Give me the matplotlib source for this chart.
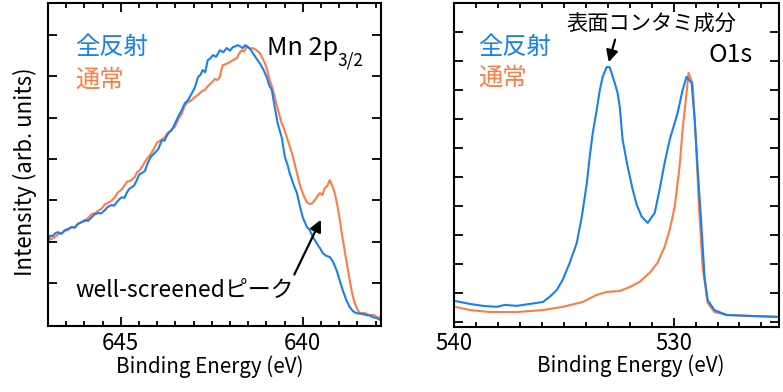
import numpy as np
import matplotlib
matplotlib.use("Agg")
import matplotlib.pyplot as plt
from matplotlib.ticker import MultipleLocator

plt.rcParams['font.family'] = ['Noto Sans CJK JP', 'DejaVu Sans']

# ---------------- data: Mn 2p3/2 (left) ----------------
mn_total_x = [647.00, 646.94, 646.87, 646.80, 646.73, 646.63, 646.54, 646.45, 646.35, 646.26,
              646.18, 646.08, 645.99, 645.90, 645.80, 645.72, 645.63, 645.54, 645.44, 645.35,
              645.25, 645.18, 645.11, 645.04, 644.97, 644.90, 644.84, 644.77, 644.70, 644.63,
              644.56, 644.49, 644.42, 644.34, 644.26, 644.17, 644.07, 643.97, 643.87, 643.80,
              643.74, 643.67, 643.60, 643.52, 643.43, 643.33, 643.24, 643.15, 643.05, 642.97,
              642.88, 642.81, 642.75, 642.68, 642.61, 642.54, 642.47, 642.38, 642.28, 642.18,
              642.09, 642.00, 641.92, 641.85, 641.79, 641.72, 641.65, 641.58, 641.51, 641.44,
              641.37, 641.28, 641.18, 641.08, 640.99, 640.92, 640.85, 640.77, 640.69, 640.58,
              640.49, 640.42, 640.36, 640.26, 640.16, 640.08, 640.00, 639.90, 639.81, 639.72,
              639.62, 639.53, 639.45, 639.36, 639.26, 639.17, 639.07, 638.98, 638.90, 638.80,
              638.71, 638.62, 638.52, 638.38, 638.24, 638.16, 638.08, 637.97, 637.86]
mn_total_y = [0.266, 0.280, 0.279, 0.288, 0.291, 0.286, 0.297, 0.301, 0.307, 0.305,
              0.316, 0.322, 0.328, 0.326, 0.337, 0.346, 0.350, 0.349, 0.359, 0.370,
              0.375, 0.373, 0.384, 0.393, 0.399, 0.397, 0.412, 0.425, 0.430, 0.436,
              0.452, 0.470, 0.474, 0.480, 0.505, 0.525, 0.536, 0.548, 0.576, 0.574,
              0.588, 0.601, 0.607, 0.625, 0.647, 0.668, 0.690, 0.700, 0.721, 0.737,
              0.771, 0.778, 0.793, 0.786, 0.824, 0.829, 0.839, 0.834, 0.854, 0.848,
              0.861, 0.853, 0.864, 0.866, 0.870, 0.866, 0.861, 0.870, 0.864, 0.858,
              0.845, 0.830, 0.814, 0.794, 0.771, 0.745, 0.731, 0.678, 0.628, 0.585,
              0.523, 0.500, 0.474, 0.440, 0.412, 0.372, 0.337, 0.310, 0.297, 0.276,
              0.257, 0.242, 0.226, 0.218, 0.214, 0.200, 0.173, 0.140, 0.111, 0.080,
              0.059, 0.046, 0.040, 0.038, 0.034, 0.033, 0.028, 0.025, 0.019]

mn_normal_x = [647.00, 646.90, 646.81, 646.72, 646.62, 646.54, 646.46, 646.36, 646.26, 646.17,
               646.07, 645.99, 645.91, 645.81, 645.71, 645.62, 645.52, 645.44, 645.36, 645.26,
               645.16, 645.09, 645.03, 644.96, 644.89, 644.82, 644.75, 644.68, 644.62, 644.55,
               644.48, 644.41, 644.34, 644.27, 644.20, 644.13, 644.07, 644.00, 643.93, 643.86,
               643.79, 643.72, 643.65, 643.58, 643.52, 643.42, 643.32, 643.24, 643.16, 643.06,
               642.97, 642.90, 642.83, 642.76, 642.69, 642.62, 642.55, 642.48, 642.42, 642.35,
               642.28, 642.24, 642.20, 642.10, 642.01, 641.91, 641.81, 641.74, 641.68, 641.61,
               641.54, 641.45, 641.37, 641.28, 641.18, 641.11, 641.04, 640.97, 640.91, 640.84,
               640.77, 640.67, 640.58, 640.51, 640.44, 640.37, 640.30, 640.23, 640.16, 640.10,
               640.03, 639.96, 639.89, 639.81, 639.73, 639.63, 639.53, 639.46, 639.40, 639.33,
               639.26, 639.19, 639.12, 639.05, 638.98, 638.92, 638.85, 638.78, 638.71, 638.64,
               638.57, 638.50, 638.43, 638.30, 638.16, 638.05, 637.95, 637.86]
mn_normal_y = [0.266, 0.270, 0.276, 0.285, 0.288, 0.295, 0.297, 0.305, 0.307, 0.318,
               0.322, 0.325, 0.334, 0.346, 0.350, 0.357, 0.365, 0.377, 0.381, 0.388,
               0.399, 0.413, 0.418, 0.425, 0.437, 0.448, 0.449, 0.455, 0.461, 0.477,
               0.483, 0.494, 0.508, 0.520, 0.529, 0.541, 0.554, 0.569, 0.573, 0.579,
               0.585, 0.598, 0.601, 0.612, 0.616, 0.640, 0.659, 0.683, 0.693, 0.699,
               0.709, 0.714, 0.721, 0.728, 0.731, 0.742, 0.749, 0.757, 0.765, 0.762,
               0.771, 0.792, 0.808, 0.812, 0.817, 0.824, 0.830, 0.845, 0.854, 0.850,
               0.867, 0.859, 0.861, 0.855, 0.845, 0.830, 0.814, 0.790, 0.762, 0.740,
               0.709, 0.665, 0.628, 0.610, 0.585, 0.561, 0.536, 0.506, 0.474, 0.445,
               0.421, 0.400, 0.384, 0.378, 0.381, 0.397, 0.412, 0.406, 0.427, 0.433,
               0.452, 0.435, 0.412, 0.375, 0.328, 0.282, 0.235, 0.188, 0.142, 0.100,
               0.071, 0.052, 0.040, 0.041, 0.034, 0.035, 0.027, 0.028]

# ---------------- data: O 1s (right) ----------------
o_total_x = [539.95, 539.27, 538.68, 538.05, 537.68, 537.14, 536.55, 535.95, 535.64, 535.32,
             535.05, 534.73, 534.41, 534.18, 533.95, 533.82, 533.68, 533.50, 533.36, 533.23,
             533.05, 532.91, 532.77, 532.68, 532.55, 532.45, 532.32, 532.09, 531.86, 531.68,
             531.45, 531.18, 530.86, 530.64, 530.41, 530.18, 529.82, 529.59, 529.41, 529.18,
             529.05, 528.91, 528.73, 528.59, 528.45, 528.14, 527.59, 526.55, 525.27]
o_total_y = [0.080, 0.071, 0.065, 0.062, 0.068, 0.065, 0.071, 0.077, 0.093, 0.114,
             0.145, 0.198, 0.259, 0.340, 0.444, 0.525, 0.599, 0.670, 0.731, 0.772,
             0.802, 0.802, 0.772, 0.753, 0.722, 0.679, 0.577, 0.494, 0.423, 0.377,
             0.340, 0.321, 0.352, 0.423, 0.506, 0.577, 0.660, 0.731, 0.772, 0.753,
             0.648, 0.494, 0.309, 0.154, 0.083, 0.052, 0.037, 0.034, 0.031]

o_normal_x = [539.95, 539.27, 538.36, 537.14, 535.95, 535.05, 534.14, 533.50, 533.05, 532.45,
              532.00, 531.55, 531.09, 530.73, 530.41, 530.18, 529.95, 529.73, 529.59, 529.41,
              529.32, 529.14, 529.00, 528.86, 528.68, 528.45, 528.14, 527.59, 526.55, 525.27]
o_normal_y = [0.062, 0.052, 0.046, 0.046, 0.052, 0.062, 0.077, 0.099, 0.108, 0.111,
              0.123, 0.139, 0.167, 0.198, 0.247, 0.299, 0.370, 0.494, 0.608, 0.722,
              0.784, 0.753, 0.599, 0.392, 0.185, 0.074, 0.046, 0.037, 0.034, 0.031]

series_labels = ['全反射', '通常']
blue = '#1a7ff0'
orange = '#ff7c45'

fig = plt.figure(figsize=(7.83, 3.92), dpi=100)
axL = fig.add_axes([0.0613, 0.168, 0.4253, 0.824])
axR = fig.add_axes([0.5798, 0.166, 0.4151, 0.8265])

for ax in (axL, axR):
    for s in ax.spines.values():
        s.set_linewidth(1.5)
    ax.tick_params(which='both', direction='in', top=True, right=True, width=1.3,
                   labelsize=16, labelleft=False, pad=4)
    ax.tick_params(which='major', length=6.5)
    ax.tick_params(which='minor', length=3.5)
    ax.tick_params(axis='y', which='minor', left=False, right=False)
    ax.set_xlabel('Binding Energy (eV)', fontsize=14.8, va='center')

# left panel
axL.plot(mn_normal_x, mn_normal_y, color=orange, lw=1.5)
axL.plot(mn_total_x, mn_total_y, color=blue, lw=1.5)
axL.set_xlim(647.0, 637.85)
axL.set_ylim(0, 1)
axL.xaxis.set_major_locator(MultipleLocator(5))
axL.xaxis.set_minor_locator(MultipleLocator(0.5))
axL.set_yticks(0.005 + 0.128 * np.arange(1, 8))
axL.set_ylabel('Intensity (arb. units)', fontsize=16)
axL.yaxis.set_label_coords(-0.033, 0.477)
axL.xaxis.set_label_coords(0.487, -0.124)

axL.text(0.081, 0.864, series_labels[0], color=blue, fontsize=17.5, va='center', transform=axL.transAxes)
axL.text(0.081, 0.762, series_labels[1], color=orange, fontsize=17.5, va='center', transform=axL.transAxes)
t = axL.text(0.658, 0.839, 'Mn 2p', fontsize=18.2, va='baseline', transform=axL.transAxes)
axL.annotate('3/2', xy=(1.0, 0.0), xycoords=t, xytext=(-1, -3), textcoords='offset points',
             fontsize=12.5, va='baseline', ha='left')
axL.text(0.081, 0.111, 'well-screenedピーク', fontsize=16.5, va='center', transform=axL.transAxes)
axL.annotate('', xy=(0.823, 0.337), xytext=(0.736, 0.152), xycoords='axes fraction',
             textcoords='axes fraction',
             arrowprops=dict(arrowstyle='-|>,head_length=0.7,head_width=0.35', color='black', lw=1.6))

# right panel
axR.plot(o_normal_x, o_normal_y, color=orange, lw=1.5)
axR.plot(o_total_x, o_total_y, color=blue, lw=1.5)
axR.set_xlim(540.0, 525.2)
axR.set_ylim(0, 1)
axR.xaxis.set_major_locator(MultipleLocator(10))
axR.xaxis.set_minor_locator(MultipleLocator(1))
axR.set_yticks(0.015 + 0.0895 * np.arange(0, 11))
axR.xaxis.set_label_coords(0.545, -0.120)

axR.text(0.074, 0.864, series_labels[0], color=blue, fontsize=17.5, va='center', transform=axR.transAxes)
axR.text(0.074, 0.769, series_labels[1], color=orange, fontsize=17.5, va='center', transform=axR.transAxes)
axR.text(0.782, 0.840, 'O1s', fontsize=18, va='center', ha='left', transform=axR.transAxes)
axR.text(0.609, 0.932, '表面コンタミ成分', fontsize=15.3, va='center', ha='center', transform=axR.transAxes)
axR.annotate('', xy=(0.474, 0.809), xytext=(0.498, 0.895), xycoords='axes fraction',
             textcoords='axes fraction',
             arrowprops=dict(arrowstyle='-|>,head_length=0.7,head_width=0.35', color='black', lw=1.6))

fig.savefig('out.png', dpi=100)
